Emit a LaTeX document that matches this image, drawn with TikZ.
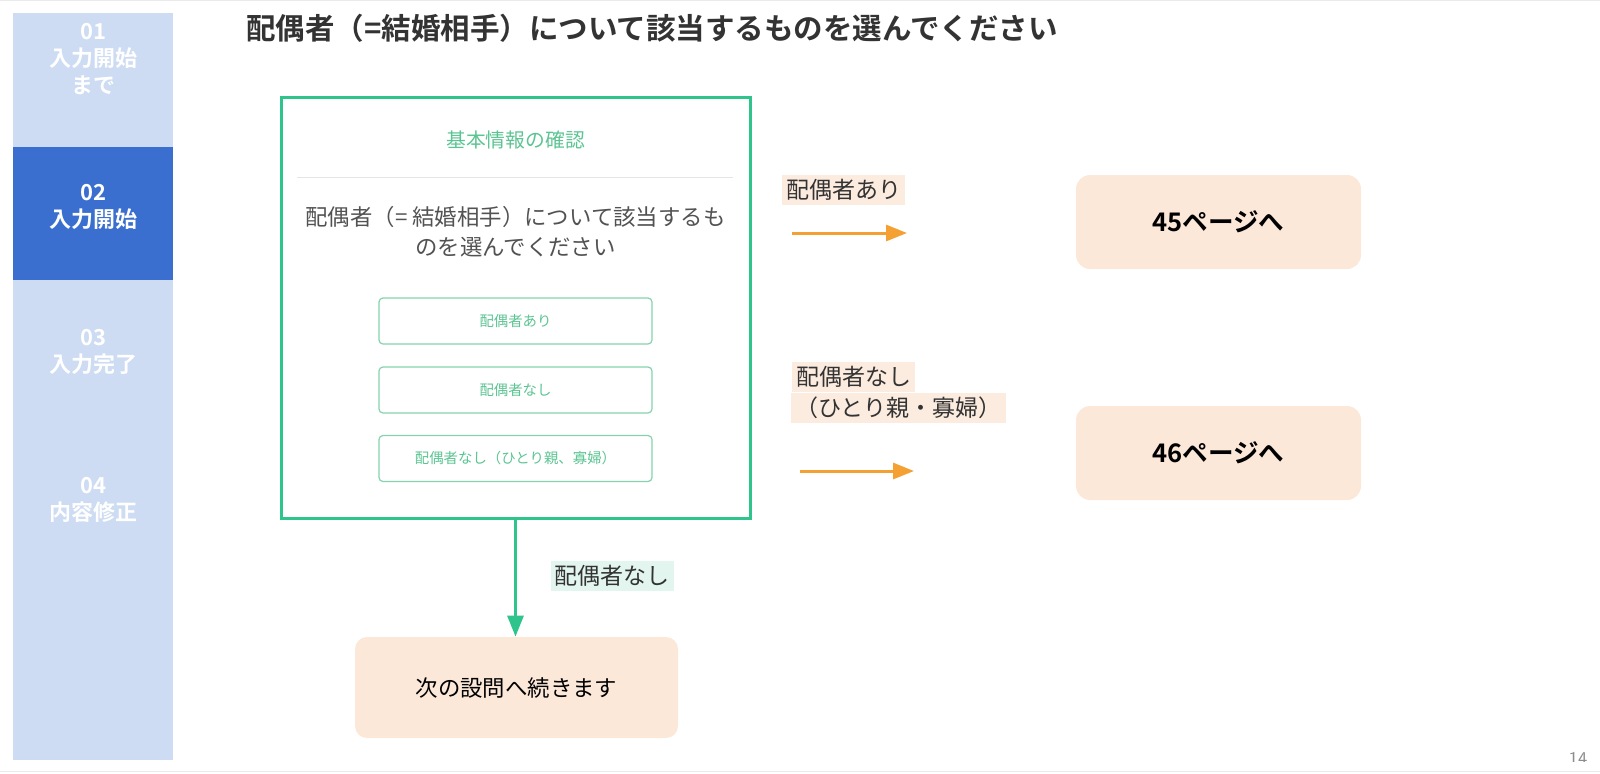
\documentclass[tikz,border=0pt]{standalone}
\usepackage{fontspec}
\setmainfont{Noto Sans CJK JP}[BoldFont={Noto Sans CJK JP Bold}]
\usepackage{xcolor}
\usetikzlibrary{positioning, arrows.meta}
\definecolor{sidelight}{HTML}{CDDCF2}
\definecolor{sideactive}{HTML}{3A6FCF}
\definecolor{frameg}{HTML}{2EC48C}
\definecolor{btng}{HTML}{5CC492}
\definecolor{peach}{HTML}{FCE8D9}
\definecolor{tagorange}{HTML}{FCEBDF}
\definecolor{taggreen}{HTML}{E2F5EE}
\definecolor{arroworange}{HTML}{F4A033}
\definecolor{titlegray}{HTML}{333333}
\tikzset{
	% step labels in the side bar
	sidetext/.style={
		text=white,
		align=center,
		font=\fontsize{11}{13.5}\selectfont\bfseries
	}, %
	% peach boxes on the right and below
	pagebox/.style={
		fill=peach,
		rounded corners=7pt,
		minimum width=142.5pt,
		minimum height=47pt,
		font=\fontsize{12.8}{14}\selectfont\bfseries
	}, %
	% answer buttons in the screen shot
	choice/.style={
		draw=btng!75,
		line width=0.6pt,
		rounded corners=2pt,
		minimum width=136.5pt,
		minimum height=23pt,
		text=btng,
		font=\fontsize{7.2}{9}\selectfont
	}, %
	% shaded labels over the arrows
	tag/.style={
		inner xsep=2pt,
		inner ysep=0pt,
		minimum height=15pt,
		text=black!80,
		font=\fontsize{11.5}{13}\selectfont
	}, %
	orarrow/.style={-{Triangle[length=10.5pt, width=8pt]}, arroworange, line width=1.5pt},
	grarrow/.style={-{Triangle[length=10.5pt, width=8pt]}, frameg, line width=1.5pt}
}

\begin{document}
\begin{tikzpicture}[x=0.5pt, y=-0.5pt]
	\useasboundingbox (0,0) rectangle (1600,773);
	\draw [black!8] (0,0.5) -- (1600,0.5);
	\draw [black!8] (0,771.5) -- (1600,771.5);

	%% side bar
	\fill [sidelight] (13,13) rectangle (173,760);
	\fill [sideactive] (13,147) rectangle (173,280);
	\node [sidetext] (step1) at (93,59) {01\\入力開始\\まで};
	\node [sidetext] (step2) at (93,206.5) {02\\入力開始};
	\node [sidetext] (step3) at (93,351.5) {03\\入力完了};
	\node [sidetext] (step4) at (93,499.5) {04\\内容修正};

	%% title
	\node [anchor=west, inner sep=0pt, text=titlegray, font=\fontsize{14.75}{17}\selectfont\bfseries] (title) at (246,28)
		{配偶者（=結婚相手）について該当するものを選んでください};

	%% screen shot of the question
	\node [draw=frameg, line width=1.5pt, minimum width=234.5pt, minimum height=210.5pt] (frame) at (515.5,307.5) {};
	\node [text=btng, font=\fontsize{9.9}{12}\selectfont] (head) at (515.5,140) {基本情報の確認};
	\draw [black!10] (297,177) -- (733,177);
	\node [align=center, text=black!68, font=\fontsize{11.2}{15}\selectfont] (question) at (515.5,232)
		{配偶者（= 結婚相手）について該当するも\\のを選んでください};
	\node [choice] (ari) at (515.5,321) {配偶者あり};
	\node [choice] (nashi) at (515.5,390) {配偶者なし};
	\node [choice] (hitori) at (515.5,458.5) {配偶者なし（ひとり親、寡婦）};

	%% results
	\node [pagebox] (p45) at (1218.5,222) {45ページへ};
	\node [pagebox] (p46) at (1218.5,453) {46ページへ};
	\node [pagebox, minimum width=161.5pt, minimum height=50.5pt, rounded corners=6pt,
		font=\fontsize{11.2}{13}\selectfont] (nextq) at (516.5,687.5) {次の設問へ続きます};

	%% arrows and their labels
	\coordinate (a1s) at (792,233);
	\coordinate (a1e) at (907,233);
	\coordinate (a2s) at (800,471);
	\coordinate (a2e) at (914,471);
	\node [tag, fill=tagorange, anchor=west] (tagari) at (782,190) {配偶者あり};
	\draw [orarrow] (a1s) -- (a1e);
	\node [tag, fill=tagorange, anchor=west] (tagnashi) at (792,376.5) {配偶者なし};
	\node [tag, fill=tagorange, anchor=west] (taghitori) at (791,408) {（ひとり親・寡婦）};
	\draw [orarrow] (a2s) -- (a2e);
	\draw [grarrow] (frame.south) -- (frame.south |- nextq.north);
	\node [tag, fill=taggreen] (tagdown) at (612,575.5) {配偶者なし};

	%% page number
	\begin{scope}
		\clip (1540,740) rectangle (1600,761);
		\node [text=black!45, font=\fontsize{9}{10}\selectfont\sffamily] (pageno) at (1578,758) {14};
	\end{scope}
\end{tikzpicture}
\end{document}
